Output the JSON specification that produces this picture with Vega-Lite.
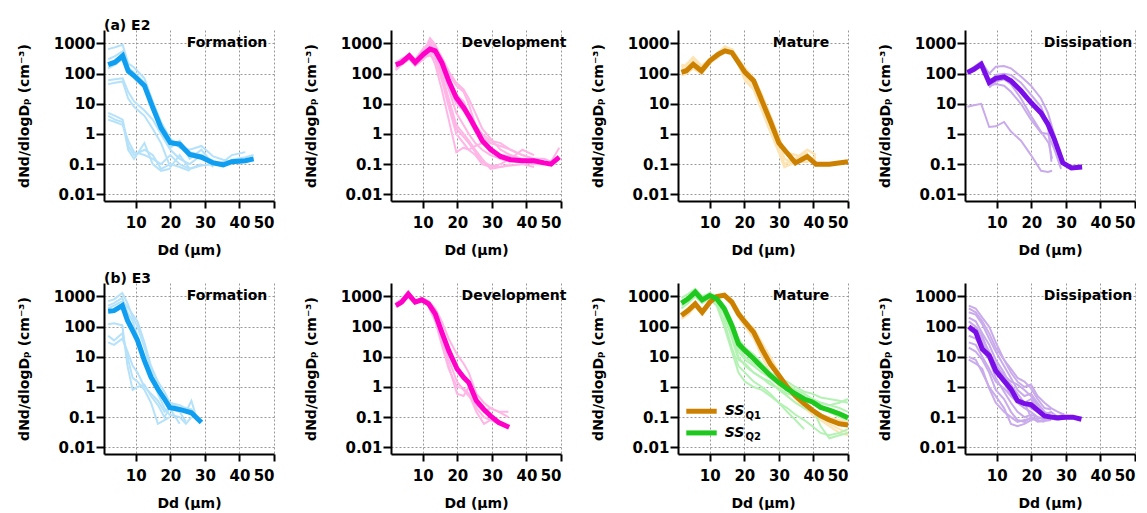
{
"$schema":"https://vega.github.io/schema/vega-lite/v6.json",
"padding":{"left":17,"top":19,"right":0,"bottom":0},
"bounds":"flush",
"columns":4,
"spacing":{"row":82,"column":117},
"config":{
 "font":"DejaVu Sans",
 "view":{"stroke":null},
 "axis":{"domainColor":"#000","domainWidth":2,"tickColor":"#000","tickWidth":2,"labelColor":"#000","labelFontSize":15,"labelFontWeight":"bold","titleColor":"#000","titleFontSize":14,"titleFontWeight":"bold","gridColor":"#999","gridDash":[2,2],"gridWidth":1,"gridOpacity":1},
 "axisX":{"tickSize":7,"labelPadding":7,"titlePadding":13},
 "axisY":{"tickSize":8,"labelPadding":1,"titlePadding":22},
 "title":{"anchor":"start","frame":"group","font":"DejaVu Sans","fontSize":14,"fontWeight":"bold","color":"#000","offset":-3},
 "text":{"font":"DejaVu Sans","fontWeight":"bold","fontSize":14,"color":"#000"}
},
"datasets":{
"e2f":[
{"i":"a","x":2,"y":650},{"i":"a","x":4,"y":750},{"i":"a","x":6.2,"y":900},{"i":"a","x":7.8,"y":220},{"i":"a","x":9.5,"y":160},{"i":"a","x":12.5,"y":70},{"i":"a","x":14.9,"y":12},{"i":"a","x":17.3,"y":2.5},{"i":"a","x":20,"y":0.7},{"i":"a","x":22.7,"y":0.35},{"i":"a","x":25.6,"y":0.3},{"i":"a","x":29,"y":0.4},{"i":"a","x":32.4,"y":0.18},{"i":"a","x":35.3,"y":0.14},{"i":"a","x":37.8,"y":0.12},{"i":"a","x":41.7,"y":0.12},{"i":"a","x":44.1,"y":0.16},
{"i":"b","x":2,"y":300},{"i":"b","x":4,"y":380},{"i":"b","x":6.2,"y":550},{"i":"b","x":7.8,"y":160},{"i":"b","x":9.5,"y":110},{"i":"b","x":12.5,"y":50},{"i":"b","x":14.9,"y":9},{"i":"b","x":17.3,"y":1.3},{"i":"b","x":20,"y":0.35},{"i":"b","x":22.7,"y":0.6},{"i":"b","x":25.6,"y":0.15},{"i":"b","x":29,"y":0.3},{"i":"b","x":32.4,"y":0.1},{"i":"b","x":35.3,"y":0.09},{"i":"b","x":37.8,"y":0.11},{"i":"b","x":41.7,"y":0.15},
{"i":"c","x":2,"y":150},{"i":"c","x":4,"y":200},{"i":"c","x":6.2,"y":300},{"i":"c","x":7.8,"y":110},{"i":"c","x":9.5,"y":90},{"i":"c","x":12.5,"y":35},{"i":"c","x":14.9,"y":6},{"i":"c","x":17.3,"y":1.2},{"i":"c","x":20,"y":0.6},{"i":"c","x":22.7,"y":0.5},{"i":"c","x":25.6,"y":0.25},{"i":"c","x":29,"y":0.2},{"i":"c","x":32.4,"y":0.13},{"i":"c","x":35.3,"y":0.1},{"i":"c","x":37.8,"y":0.14},{"i":"c","x":41.7,"y":0.17},{"i":"c","x":44.1,"y":0.2},
{"i":"d","x":2,"y":60},{"i":"d","x":4,"y":65},{"i":"d","x":6.2,"y":70},{"i":"d","x":7.8,"y":25},{"i":"d","x":9.5,"y":12},{"i":"d","x":12.5,"y":6},{"i":"d","x":14.9,"y":3},{"i":"d","x":17.3,"y":1},{"i":"d","x":20,"y":0.3},{"i":"d","x":22.7,"y":0.15},{"i":"d","x":25.6,"y":0.1},{"i":"d","x":29,"y":0.2},{"i":"d","x":32.4,"y":0.08},
{"i":"e","x":2,"y":45},{"i":"e","x":4,"y":50},{"i":"e","x":6.2,"y":55},{"i":"e","x":7.8,"y":15},{"i":"e","x":9.5,"y":8},{"i":"e","x":12.5,"y":4},{"i":"e","x":14.9,"y":1.5},{"i":"e","x":17.3,"y":0.5},{"i":"e","x":20,"y":0.08},{"i":"e","x":22.7,"y":0.2},{"i":"e","x":25.6,"y":0.07},{"i":"e","x":29,"y":0.1},
{"i":"f","x":2,"y":5},{"i":"f","x":4,"y":4},{"i":"f","x":6.2,"y":3},{"i":"f","x":7.8,"y":0.4},{"i":"f","x":9.5,"y":0.2},{"i":"f","x":12.5,"y":0.3},{"i":"f","x":14.9,"y":0.2},{"i":"f","x":17.3,"y":0.07},{"i":"f","x":20,"y":0.1},{"i":"f","x":22.7,"y":0.08},{"i":"f","x":25.6,"y":0.06},
{"i":"g","x":2,"y":4},{"i":"g","x":4,"y":3},{"i":"g","x":6.2,"y":2.5},{"i":"g","x":7.8,"y":0.3},{"i":"g","x":9.5,"y":0.15},{"i":"g","x":12.5,"y":0.5},{"i":"g","x":14.9,"y":0.1},{"i":"g","x":17.3,"y":0.06},{"i":"g","x":20,"y":0.07},
{"i":"h","x":2,"y":3},{"i":"h","x":4,"y":2.5},{"i":"h","x":6.2,"y":2},{"i":"h","x":7.8,"y":0.6},{"i":"h","x":9.5,"y":0.25},{"i":"h","x":12.5,"y":0.2},{"i":"h","x":14.9,"y":0.15},{"i":"h","x":17.3,"y":0.1},{"i":"h","x":20,"y":0.2},{"i":"h","x":22.7,"y":0.1},{"i":"h","x":25.6,"y":0.07},{"i":"h","x":29,"y":0.09},{"i":"h","x":32.4,"y":0.1},{"i":"h","x":35.3,"y":0.12},{"i":"h","x":37.8,"y":0.2},{"i":"h","x":41.7,"y":0.25},
{"i":"M","x":2,"y":200},{"i":"M","x":4,"y":240},{"i":"M","x":6.2,"y":390},{"i":"M","x":7.8,"y":123},{"i":"M","x":9.5,"y":85},{"i":"M","x":12.5,"y":40},{"i":"M","x":14.9,"y":7.6},{"i":"M","x":17.3,"y":1.6},{"i":"M","x":20,"y":0.51},{"i":"M","x":22.7,"y":0.46},{"i":"M","x":25.6,"y":0.21},{"i":"M","x":29,"y":0.17},{"i":"M","x":32.4,"y":0.11},{"i":"M","x":35.3,"y":0.095},{"i":"M","x":37.8,"y":0.12},{"i":"M","x":41.7,"y":0.13},{"i":"M","x":44.1,"y":0.15}
],
"e2d":[
{"i":"a","x":2.2,"y":150},{"i":"a","x":3.9,"y":250},{"i":"a","x":6.1,"y":350},{"i":"a","x":7.8,"y":200},{"i":"a","x":10.2,"y":500},{"i":"a","x":12.1,"y":1500},{"i":"a","x":13.6,"y":900},{"i":"a","x":15.5,"y":300},{"i":"a","x":17.5,"y":100},{"i":"a","x":19.7,"y":40},{"i":"a","x":21.8,"y":25},{"i":"a","x":23.3,"y":10},{"i":"a","x":25.2,"y":2},{"i":"a","x":27.2,"y":0.8},{"i":"a","x":29.6,"y":0.5},{"i":"a","x":32.5,"y":0.4},{"i":"a","x":35.4,"y":0.3},{"i":"a","x":38.8,"y":0.2},{"i":"a","x":42.2,"y":0.15},{"i":"a","x":45.1,"y":0.15},{"i":"a","x":47.1,"y":0.12},{"i":"a","x":49.5,"y":0.35},
{"i":"b","x":2.2,"y":200},{"i":"b","x":3.9,"y":300},{"i":"b","x":6.1,"y":450},{"i":"b","x":7.8,"y":300},{"i":"b","x":10.2,"y":700},{"i":"b","x":12.1,"y":1000},{"i":"b","x":13.6,"y":600},{"i":"b","x":15.5,"y":150},{"i":"b","x":17.5,"y":30},{"i":"b","x":19.7,"y":5},{"i":"b","x":21.8,"y":2},{"i":"b","x":23.3,"y":1},{"i":"b","x":25.2,"y":0.5},{"i":"b","x":27.2,"y":0.3},{"i":"b","x":29.6,"y":0.2},{"i":"b","x":32.5,"y":0.15},{"i":"b","x":35.4,"y":0.13},{"i":"b","x":38.8,"y":0.12},{"i":"b","x":42.2,"y":0.1},{"i":"b","x":45.1,"y":0.1},
{"i":"c","x":2.2,"y":130},{"i":"c","x":3.9,"y":200},{"i":"c","x":6.1,"y":300},{"i":"c","x":7.8,"y":180},{"i":"c","x":10.2,"y":300},{"i":"c","x":12.1,"y":500},{"i":"c","x":13.6,"y":200},{"i":"c","x":15.5,"y":30},{"i":"c","x":17.5,"y":3},{"i":"c","x":19.7,"y":0.25},{"i":"c","x":21.8,"y":0.35},{"i":"c","x":23.3,"y":0.3},{"i":"c","x":25.2,"y":0.4},{"i":"c","x":27.2,"y":0.5},{"i":"c","x":29.6,"y":0.3},{"i":"c","x":32.5,"y":0.15},{"i":"c","x":35.4,"y":0.12},
{"i":"d","x":2.2,"y":180},{"i":"d","x":3.9,"y":260},{"i":"d","x":6.1,"y":400},{"i":"d","x":7.8,"y":250},{"i":"d","x":10.2,"y":400},{"i":"d","x":12.1,"y":700},{"i":"d","x":13.6,"y":450},{"i":"d","x":15.5,"y":100},{"i":"d","x":17.5,"y":15},{"i":"d","x":19.7,"y":2},{"i":"d","x":21.8,"y":1},{"i":"d","x":23.3,"y":0.6},{"i":"d","x":25.2,"y":0.3},{"i":"d","x":27.2,"y":0.15},{"i":"d","x":29.6,"y":0.07},{"i":"d","x":32.5,"y":0.08},{"i":"d","x":35.4,"y":0.09},{"i":"d","x":38.8,"y":0.1},{"i":"d","x":42.2,"y":0.08},
{"i":"e","x":2.2,"y":220},{"i":"e","x":3.9,"y":320},{"i":"e","x":6.1,"y":350},{"i":"e","x":7.8,"y":220},{"i":"e","x":10.2,"y":350},{"i":"e","x":12.1,"y":400},{"i":"e","x":13.6,"y":300},{"i":"e","x":15.5,"y":60},{"i":"e","x":17.5,"y":8},{"i":"e","x":19.7,"y":1},{"i":"e","x":21.8,"y":0.5},{"i":"e","x":23.3,"y":0.3},{"i":"e","x":25.2,"y":0.2},{"i":"e","x":27.2,"y":0.1},{"i":"e","x":29.6,"y":0.08},{"i":"e","x":32.5,"y":0.1},{"i":"e","x":35.4,"y":0.15},{"i":"e","x":38.8,"y":0.3},{"i":"e","x":42.2,"y":0.2},
{"i":"f","x":2.2,"y":170},{"i":"f","x":3.9,"y":220},{"i":"f","x":6.1,"y":380},{"i":"f","x":7.8,"y":210},{"i":"f","x":10.2,"y":450},{"i":"f","x":12.1,"y":800},{"i":"f","x":13.6,"y":700},{"i":"f","x":15.5,"y":250},{"i":"f","x":17.5,"y":60},{"i":"f","x":19.7,"y":20},{"i":"f","x":21.8,"y":12},{"i":"f","x":23.3,"y":5},{"i":"f","x":25.2,"y":2},{"i":"f","x":27.2,"y":1},{"i":"f","x":29.6,"y":0.6},{"i":"f","x":32.5,"y":0.5},{"i":"f","x":35.4,"y":0.3},{"i":"f","x":38.8,"y":0.2},{"i":"f","x":42.2,"y":0.15},
{"i":"g","x":2.2,"y":160},{"i":"g","x":3.9,"y":240},{"i":"g","x":6.1,"y":330},{"i":"g","x":7.8,"y":230},{"i":"g","x":10.2,"y":550},{"i":"g","x":12.1,"y":900},{"i":"g","x":13.6,"y":500},{"i":"g","x":15.5,"y":200},{"i":"g","x":17.5,"y":40},{"i":"g","x":19.7,"y":10},{"i":"g","x":21.8,"y":6},{"i":"g","x":23.3,"y":3},{"i":"g","x":25.2,"y":1.2},{"i":"g","x":27.2,"y":0.6},{"i":"g","x":29.6,"y":0.25},{"i":"g","x":32.5,"y":0.2},{"i":"g","x":35.4,"y":0.18},{"i":"g","x":38.8,"y":0.14},{"i":"g","x":42.2,"y":0.12},{"i":"g","x":45.1,"y":0.13},
{"i":"h","x":2.2,"y":250},{"i":"h","x":3.9,"y":280},{"i":"h","x":6.1,"y":420},{"i":"h","x":7.8,"y":260},{"i":"h","x":10.2,"y":600},{"i":"h","x":12.1,"y":1200},{"i":"h","x":13.6,"y":800},{"i":"h","x":15.5,"y":350},{"i":"h","x":17.5,"y":120},{"i":"h","x":19.7,"y":50},{"i":"h","x":21.8,"y":30},{"i":"h","x":23.3,"y":15},{"i":"h","x":25.2,"y":5},{"i":"h","x":27.2,"y":1.5},{"i":"h","x":29.6,"y":0.7},{"i":"h","x":32.5,"y":0.3},{"i":"h","x":35.4,"y":0.2},{"i":"h","x":38.8,"y":0.15},{"i":"h","x":42.2,"y":0.12},{"i":"h","x":45.1,"y":0.12},{"i":"h","x":47.1,"y":0.1},{"i":"h","x":49.5,"y":0.15},
{"i":"j","x":2.2,"y":140},{"i":"j","x":3.9,"y":210},{"i":"j","x":6.1,"y":320},{"i":"j","x":7.8,"y":190},{"i":"j","x":10.2,"y":380},{"i":"j","x":12.1,"y":600},{"i":"j","x":13.6,"y":350},{"i":"j","x":15.5,"y":80},{"i":"j","x":17.5,"y":10},{"i":"j","x":19.7,"y":1.5},{"i":"j","x":21.8,"y":0.8},{"i":"j","x":23.3,"y":0.5},{"i":"j","x":25.2,"y":0.25},{"i":"j","x":27.2,"y":0.12},{"i":"j","x":29.6,"y":0.09},{"i":"j","x":32.5,"y":0.08},{"i":"j","x":35.4,"y":0.1},
{"i":"M","x":2.2,"y":196},{"i":"M","x":3.9,"y":235},{"i":"M","x":6.1,"y":390},{"i":"M","x":7.8,"y":235},{"i":"M","x":10.2,"y":440},{"i":"M","x":12.1,"y":650},{"i":"M","x":13.6,"y":570},{"i":"M","x":15.5,"y":235},{"i":"M","x":17.5,"y":58},{"i":"M","x":19.7,"y":16},{"i":"M","x":21.8,"y":7.6},{"i":"M","x":23.3,"y":4},{"i":"M","x":25.2,"y":1.6},{"i":"M","x":27.2,"y":0.6},{"i":"M","x":29.6,"y":0.31},{"i":"M","x":32.5,"y":0.18},{"i":"M","x":35.4,"y":0.14},{"i":"M","x":38.8,"y":0.13},{"i":"M","x":42.2,"y":0.13},{"i":"M","x":45.1,"y":0.11},{"i":"M","x":47.1,"y":0.1},{"i":"M","x":49.5,"y":0.17}
],
"e2m":[
{"i":"a","x":1.8,"y":160},{"i":"a","x":3.2,"y":200},{"i":"a","x":5.2,"y":350},{"i":"a","x":7.6,"y":180},{"i":"a","x":10,"y":300},{"i":"a","x":12.5,"y":500},{"i":"a","x":14.4,"y":800},{"i":"a","x":16.4,"y":600},{"i":"a","x":18.3,"y":250},{"i":"a","x":20.2,"y":80},{"i":"a","x":22.7,"y":40},{"i":"a","x":25.1,"y":8},{"i":"a","x":27.5,"y":1.5},{"i":"a","x":30,"y":0.3},{"i":"a","x":31.6,"y":0.1},{"i":"a","x":34.8,"y":0.15},{"i":"a","x":38.2,"y":0.3},{"i":"a","x":40.7,"y":0.2},
{"i":"b","x":1.8,"y":90},{"i":"b","x":3.2,"y":100},{"i":"b","x":5.2,"y":150},{"i":"b","x":7.6,"y":100},{"i":"b","x":10,"y":220},{"i":"b","x":12.5,"y":400},{"i":"b","x":14.4,"y":500},{"i":"b","x":16.4,"y":450},{"i":"b","x":18.3,"y":200},{"i":"b","x":20.2,"y":60},{"i":"b","x":22.7,"y":30},{"i":"b","x":25.1,"y":6},{"i":"b","x":27.5,"y":1.2},{"i":"b","x":30,"y":0.25},{"i":"b","x":31.6,"y":0.08},{"i":"b","x":34.8,"y":0.12},{"i":"b","x":38.2,"y":0.12},{"i":"b","x":40.7,"y":0.18},
{"i":"c","x":1.8,"y":140},{"i":"c","x":3.2,"y":150},{"i":"c","x":5.2,"y":250},{"i":"c","x":7.6,"y":150},{"i":"c","x":10,"y":250},{"i":"c","x":12.5,"y":350},{"i":"c","x":14.4,"y":700},{"i":"c","x":16.4,"y":650},{"i":"c","x":18.3,"y":300},{"i":"c","x":20.2,"y":150},{"i":"c","x":22.7,"y":70},{"i":"c","x":25.1,"y":20},{"i":"c","x":27.5,"y":4},{"i":"c","x":30,"y":0.8},{"i":"c","x":31.6,"y":0.25},{"i":"c","x":34.8,"y":0.2},{"i":"c","x":38.2,"y":0.15},{"i":"c","x":40.7,"y":0.15},
{"i":"d","x":1.8,"y":200},{"i":"d","x":3.2,"y":170},{"i":"d","x":5.2,"y":300},{"i":"d","x":7.6,"y":130},{"i":"d","x":10,"y":280},{"i":"d","x":12.5,"y":450},{"i":"d","x":14.4,"y":600},{"i":"d","x":16.4,"y":550},{"i":"d","x":18.3,"y":280},{"i":"d","x":20.2,"y":120},{"i":"d","x":22.7,"y":50},{"i":"d","x":25.1,"y":15},{"i":"d","x":27.5,"y":3},{"i":"d","x":30,"y":0.6},{"i":"d","x":31.6,"y":0.15},{"i":"d","x":34.8,"y":0.1},{"i":"d","x":38.2,"y":0.25},
{"i":"M","x":1.8,"y":110},{"i":"M","x":3.2,"y":125},{"i":"M","x":5.2,"y":205},{"i":"M","x":7.6,"y":123},{"i":"M","x":10,"y":265},{"i":"M","x":12.5,"y":440},{"i":"M","x":14.4,"y":570},{"i":"M","x":16.4,"y":500},{"i":"M","x":18.3,"y":235},{"i":"M","x":20.2,"y":110},{"i":"M","x":22.7,"y":58},{"i":"M","x":25.1,"y":12.5},{"i":"M","x":27.5,"y":2.7},{"i":"M","x":30,"y":0.5},{"i":"M","x":31.6,"y":0.3},{"i":"M","x":34.8,"y":0.11},{"i":"M","x":38.2,"y":0.18},{"i":"M","x":40.7,"y":0.1},{"i":"M","x":44.6,"y":0.1},{"i":"M","x":50,"y":0.12}
],
"e2x":[
{"i":"a","x":1.5,"y":120},{"i":"a","x":3.4,"y":170},{"i":"a","x":5.5,"y":250},{"i":"a","x":7.8,"y":100},{"i":"a","x":9.7,"y":170},{"i":"a","x":12.1,"y":180},{"i":"a","x":14.1,"y":150},{"i":"a","x":17,"y":80},{"i":"a","x":19.9,"y":40},{"i":"a","x":22.8,"y":15},{"i":"a","x":24.8,"y":5},{"i":"a","x":26.7,"y":0.9},{"i":"a","x":28.5,"y":0.1},
{"i":"b","x":1.5,"y":100},{"i":"b","x":3.4,"y":130},{"i":"b","x":5.5,"y":180},{"i":"b","x":7.8,"y":45},{"i":"b","x":9.7,"y":90},{"i":"b","x":12.1,"y":100},{"i":"b","x":14.1,"y":90},{"i":"b","x":17,"y":50},{"i":"b","x":19.9,"y":20},{"i":"b","x":22.8,"y":8},{"i":"b","x":24.8,"y":2},{"i":"b","x":25.8,"y":0.12},
{"i":"c","x":7.8,"y":40},{"i":"c","x":9.7,"y":45},{"i":"c","x":12.1,"y":40},{"i":"c","x":14.1,"y":25},{"i":"c","x":17,"y":10},{"i":"c","x":19.9,"y":3},{"i":"c","x":22.8,"y":1.1},{"i":"c","x":24.8,"y":1},{"i":"c","x":26.7,"y":0.3},{"i":"c","x":28.6,"y":0.07},
{"i":"d","x":1.5,"y":8},{"i":"d","x":3.4,"y":9},{"i":"d","x":5.5,"y":10},{"i":"d","x":7.8,"y":1.7},{"i":"d","x":9.7,"y":1.8},{"i":"d","x":12.1,"y":2.5},{"i":"d","x":14.1,"y":1.2},{"i":"d","x":17,"y":0.6},{"i":"d","x":19.9,"y":0.2},{"i":"d","x":22.8,"y":0.06},{"i":"d","x":24.8,"y":0.055},{"i":"d","x":26,"y":0.06},
{"i":"e","x":7.8,"y":35},{"i":"e","x":9.7,"y":55},{"i":"e","x":12.1,"y":65},{"i":"e","x":14.1,"y":45},{"i":"e","x":17,"y":15},{"i":"e","x":19.9,"y":4},{"i":"e","x":22.8,"y":1.2},{"i":"e","x":25,"y":0.5},{"i":"e","x":26,"y":0.15},
{"i":"M","x":1.5,"y":110},{"i":"M","x":3.4,"y":140},{"i":"M","x":5.5,"y":205},{"i":"M","x":7.8,"y":51},{"i":"M","x":9.7,"y":70},{"i":"M","x":12.1,"y":78},{"i":"M","x":14.1,"y":58},{"i":"M","x":17,"y":27},{"i":"M","x":19.9,"y":11},{"i":"M","x":22.8,"y":5},{"i":"M","x":24.8,"y":2.1},{"i":"M","x":26.7,"y":0.65},{"i":"M","x":29.1,"y":0.11},{"i":"M","x":31.6,"y":0.075},{"i":"M","x":34.7,"y":0.08}
],
"e3f":[
{"i":"a","x":2,"y":700},{"i":"a","x":3.7,"y":800},{"i":"a","x":6.1,"y":1300},{"i":"a","x":7.6,"y":600},{"i":"a","x":9.1,"y":200},{"i":"a","x":10.5,"y":100},{"i":"a","x":12.5,"y":20},{"i":"a","x":14.4,"y":4},{"i":"a","x":16.4,"y":1},{"i":"a","x":18.3,"y":0.5},{"i":"a","x":19.8,"y":0.3},{"i":"a","x":22.7,"y":0.2},{"i":"a","x":24.5,"y":0.15},{"i":"a","x":26.1,"y":0.35},{"i":"a","x":27.5,"y":0.1},
{"i":"b","x":2,"y":500},{"i":"b","x":3.7,"y":600},{"i":"b","x":6.1,"y":900},{"i":"b","x":7.6,"y":300},{"i":"b","x":9.1,"y":150},{"i":"b","x":10.5,"y":50},{"i":"b","x":12.5,"y":10},{"i":"b","x":14.4,"y":3},{"i":"b","x":16.4,"y":0.6},{"i":"b","x":18.3,"y":0.2},{"i":"b","x":19.8,"y":0.12},{"i":"b","x":22.7,"y":0.1},{"i":"b","x":24.5,"y":0.06},{"i":"b","x":26.1,"y":0.1},
{"i":"c","x":2,"y":120},{"i":"c","x":3.7,"y":130},{"i":"c","x":6.1,"y":110},{"i":"c","x":7.6,"y":5},{"i":"c","x":9.1,"y":0.8},{"i":"c","x":10.5,"y":1},{"i":"c","x":12.5,"y":1.2},{"i":"c","x":14.4,"y":0.5},{"i":"c","x":16.4,"y":0.25},{"i":"c","x":18.3,"y":0.1},{"i":"c","x":19.8,"y":0.2},{"i":"c","x":22.7,"y":0.06},
{"i":"d","x":2,"y":50},{"i":"d","x":3.7,"y":35},{"i":"d","x":6.1,"y":60},{"i":"d","x":7.6,"y":10},{"i":"d","x":9.1,"y":2},{"i":"d","x":10.5,"y":1.5},{"i":"d","x":12.5,"y":0.8},{"i":"d","x":14.4,"y":0.3},{"i":"d","x":16.4,"y":0.06},{"i":"d","x":18.3,"y":0.08},{"i":"d","x":19.8,"y":0.1},
{"i":"e","x":2,"y":30},{"i":"e","x":3.7,"y":25},{"i":"e","x":6.1,"y":40},{"i":"e","x":7.6,"y":15},{"i":"e","x":9.1,"y":5},{"i":"e","x":10.5,"y":3},{"i":"e","x":12.5,"y":1},{"i":"e","x":14.4,"y":0.6},{"i":"e","x":16.4,"y":0.35},{"i":"e","x":18.3,"y":0.15},{"i":"e","x":19.8,"y":0.2},{"i":"e","x":22.7,"y":0.15},{"i":"e","x":24.5,"y":0.07},
{"i":"f","x":2,"y":400},{"i":"f","x":3.7,"y":500},{"i":"f","x":6.1,"y":700},{"i":"f","x":7.6,"y":450},{"i":"f","x":9.1,"y":250},{"i":"f","x":10.5,"y":150},{"i":"f","x":12.5,"y":30},{"i":"f","x":14.4,"y":5},{"i":"f","x":16.4,"y":1.5},{"i":"f","x":18.3,"y":0.7},{"i":"f","x":19.8,"y":0.3},{"i":"f","x":22.7,"y":0.25},{"i":"f","x":24.5,"y":0.2},{"i":"f","x":26.1,"y":0.18},{"i":"f","x":27.5,"y":0.1},
{"i":"M","x":2,"y":325},{"i":"M","x":3.7,"y":340},{"i":"M","x":6.1,"y":500},{"i":"M","x":7.6,"y":160},{"i":"M","x":9.1,"y":74},{"i":"M","x":10.5,"y":35},{"i":"M","x":12.5,"y":7.5},{"i":"M","x":14.4,"y":2.1},{"i":"M","x":16.4,"y":0.85},{"i":"M","x":18.3,"y":0.4},{"i":"M","x":19.8,"y":0.21},{"i":"M","x":22.7,"y":0.18},{"i":"M","x":26.1,"y":0.14},{"i":"M","x":29,"y":0.066}
],
"e3d":[
{"i":"a","x":2.2,"y":600},{"i":"a","x":3.9,"y":800},{"i":"a","x":5.8,"y":1500},{"i":"a","x":7.8,"y":700},{"i":"a","x":9.7,"y":900},{"i":"a","x":11.7,"y":700},{"i":"a","x":13.6,"y":400},{"i":"a","x":15.5,"y":150},{"i":"a","x":17.5,"y":40},{"i":"a","x":19.9,"y":12},{"i":"a","x":21.8,"y":6},{"i":"a","x":23.3,"y":3},{"i":"a","x":25.5,"y":0.6},{"i":"a","x":27.7,"y":0.3},{"i":"a","x":29.6,"y":0.2},{"i":"a","x":32,"y":0.15},{"i":"a","x":34.8,"y":0.15},
{"i":"b","x":2.2,"y":450},{"i":"b","x":3.9,"y":600},{"i":"b","x":5.8,"y":1000},{"i":"b","x":7.8,"y":600},{"i":"b","x":9.7,"y":700},{"i":"b","x":11.7,"y":500},{"i":"b","x":13.6,"y":200},{"i":"b","x":15.5,"y":30},{"i":"b","x":17.5,"y":5},{"i":"b","x":19.9,"y":0.6},{"i":"b","x":21.8,"y":0.5},{"i":"b","x":23.3,"y":1},{"i":"b","x":25.5,"y":0.2},{"i":"b","x":27.7,"y":0.1},{"i":"b","x":29.6,"y":0.08},{"i":"b","x":32,"y":0.06},
{"i":"c","x":9.7,"y":800},{"i":"c","x":11.7,"y":600},{"i":"c","x":13.6,"y":250},{"i":"c","x":15.5,"y":40},{"i":"c","x":17.5,"y":8},{"i":"c","x":19.9,"y":1.5},{"i":"c","x":21.8,"y":0.8},{"i":"c","x":23.3,"y":0.5},{"i":"c","x":25.5,"y":0.25},{"i":"c","x":27.7,"y":0.15},{"i":"c","x":29.6,"y":0.2},{"i":"c","x":32,"y":0.15},{"i":"c","x":34.8,"y":0.1},
{"i":"d","x":11.7,"y":450},{"i":"d","x":13.6,"y":150},{"i":"d","x":15.5,"y":25},{"i":"d","x":17.5,"y":4},{"i":"d","x":19.9,"y":1},{"i":"d","x":21.8,"y":0.9},{"i":"d","x":23.3,"y":0.6},{"i":"d","x":25.5,"y":0.15},{"i":"d","x":27.7,"y":0.06},{"i":"d","x":29.6,"y":0.08},
{"i":"M","x":2.2,"y":500},{"i":"M","x":3.9,"y":650},{"i":"M","x":5.8,"y":1200},{"i":"M","x":7.8,"y":650},{"i":"M","x":9.7,"y":775},{"i":"M","x":11.7,"y":570},{"i":"M","x":13.6,"y":265},{"i":"M","x":15.5,"y":66},{"i":"M","x":17.5,"y":16},{"i":"M","x":19.9,"y":4},{"i":"M","x":21.8,"y":2.1},{"i":"M","x":23.3,"y":1.4},{"i":"M","x":25.5,"y":0.35},{"i":"M","x":27.7,"y":0.18},{"i":"M","x":29.6,"y":0.11},{"i":"M","x":32,"y":0.066},{"i":"M","x":35,"y":0.046}
],
"e3m":[
{"i":"q1","x":1.8,"y":180},{"i":"q1","x":3.7,"y":250},{"i":"q1","x":5.8,"y":450},{"i":"q1","x":7.8,"y":250},{"i":"q1","x":10,"y":550},{"i":"q1","x":12,"y":900},{"i":"q1","x":14.2,"y":1100},{"i":"q1","x":16.4,"y":700},{"i":"q1","x":18.3,"y":300},{"i":"q1","x":20.2,"y":180},{"i":"q1","x":22.7,"y":80},{"i":"q1","x":25.1,"y":25},{"i":"q1","x":27.5,"y":8},{"i":"q1","x":30,"y":3},{"i":"q1","x":32.4,"y":1.2},{"i":"q1","x":34.8,"y":0.6},{"i":"q1","x":37.3,"y":0.3},{"i":"q1","x":39.7,"y":0.15},{"i":"q1","x":42.1,"y":0.1},{"i":"q1","x":44.6,"y":0.06},{"i":"q1","x":47.5,"y":0.04},{"i":"q1","x":50,"y":0.03},
{"i":"q2","x":1.8,"y":280},{"i":"q2","x":3.7,"y":400},{"i":"q2","x":5.8,"y":700},{"i":"q2","x":7.8,"y":350},{"i":"q2","x":10,"y":750},{"i":"q2","x":12,"y":1100},{"i":"q2","x":14.2,"y":1200},{"i":"q2","x":16.4,"y":800},{"i":"q2","x":18.3,"y":350},{"i":"q2","x":20.2,"y":150},{"i":"q2","x":22.7,"y":90},{"i":"q2","x":25.1,"y":30},{"i":"q2","x":27.5,"y":10},{"i":"q2","x":30,"y":3},{"i":"q2","x":32.4,"y":1},{"i":"q2","x":34.8,"y":0.4},{"i":"q2","x":37.3,"y":0.2},{"i":"q2","x":39.7,"y":0.12},{"i":"q2","x":42.1,"y":0.08},{"i":"q2","x":44.6,"y":0.05},{"i":"q2","x":47.5,"y":0.03},{"i":"q2","x":50,"y":0.025},
{"i":"q3","x":1.8,"y":200},{"i":"q3","x":3.7,"y":300},{"i":"q3","x":5.8,"y":500},{"i":"q3","x":7.8,"y":280},{"i":"q3","x":10,"y":600},{"i":"q3","x":12,"y":950},{"i":"q3","x":14.2,"y":1000},{"i":"q3","x":16.4,"y":500},{"i":"q3","x":18.3,"y":200},{"i":"q3","x":20.2,"y":100},{"i":"q3","x":22.7,"y":40},{"i":"q3","x":25.1,"y":10},{"i":"q3","x":27.5,"y":3},{"i":"q3","x":30,"y":1},{"i":"q3","x":32.4,"y":0.5},{"i":"q3","x":34.8,"y":0.3},{"i":"q3","x":37.3,"y":0.2},{"i":"q3","x":39.7,"y":0.15},{"i":"q3","x":42.1,"y":0.12},{"i":"q3","x":44.6,"y":0.1},{"i":"q3","x":47.5,"y":0.08},{"i":"q3","x":50,"y":0.07},
{"i":"g1","x":1.8,"y":900},{"i":"g1","x":3.7,"y":1200},{"i":"g1","x":5.8,"y":1800},{"i":"g1","x":7.8,"y":1000},{"i":"g1","x":10,"y":1300},{"i":"g1","x":12,"y":1000},{"i":"g1","x":14.2,"y":500},{"i":"g1","x":16.4,"y":150},{"i":"g1","x":18.3,"y":40},{"i":"g1","x":20.2,"y":20},{"i":"g1","x":22.7,"y":12},{"i":"g1","x":25.1,"y":6},{"i":"g1","x":27.5,"y":3},{"i":"g1","x":30,"y":2},{"i":"g1","x":32.4,"y":1.5},{"i":"g1","x":34.8,"y":1},{"i":"g1","x":37.3,"y":0.7},{"i":"g1","x":39.7,"y":0.6},{"i":"g1","x":42.1,"y":0.45},{"i":"g1","x":44.6,"y":0.4},{"i":"g1","x":47.5,"y":0.35},{"i":"g1","x":50,"y":0.3},
{"i":"g2","x":1.8,"y":400},{"i":"g2","x":3.7,"y":600},{"i":"g2","x":5.8,"y":1000},{"i":"g2","x":7.8,"y":600},{"i":"g2","x":10,"y":900},{"i":"g2","x":12,"y":700},{"i":"g2","x":14.2,"y":250},{"i":"g2","x":16.4,"y":50},{"i":"g2","x":18.3,"y":10},{"i":"g2","x":20.2,"y":5},{"i":"g2","x":22.7,"y":3},{"i":"g2","x":25.1,"y":2},{"i":"g2","x":27.5,"y":1.5},{"i":"g2","x":30,"y":0.8},{"i":"g2","x":32.4,"y":0.5},{"i":"g2","x":34.8,"y":0.3},{"i":"g2","x":37.3,"y":0.2},{"i":"g2","x":39.7,"y":0.15},{"i":"g2","x":42.1,"y":0.1},{"i":"g2","x":44.6,"y":0.08},{"i":"g2","x":47.5,"y":0.06},{"i":"g2","x":50,"y":0.05},
{"i":"g3","x":1.8,"y":700},{"i":"g3","x":3.7,"y":900},{"i":"g3","x":5.8,"y":1200},{"i":"g3","x":7.8,"y":700},{"i":"g3","x":10,"y":1000},{"i":"g3","x":12,"y":600},{"i":"g3","x":14.2,"y":150},{"i":"g3","x":16.4,"y":20},{"i":"g3","x":18.3,"y":5},{"i":"g3","x":20.2,"y":3},{"i":"g3","x":22.7,"y":1.5},{"i":"g3","x":25.1,"y":1},{"i":"g3","x":27.5,"y":0.6},{"i":"g3","x":30,"y":0.3},{"i":"g3","x":32.4,"y":0.2},{"i":"g3","x":34.8,"y":0.12},{"i":"g3","x":37.3,"y":0.08},{"i":"g3","x":39.7,"y":0.05},{"i":"g3","x":42.1,"y":0.03},{"i":"g3","x":44.6,"y":0.025},{"i":"g3","x":47.5,"y":0.03},{"i":"g3","x":50,"y":0.04},
{"i":"g4","x":1.8,"y":500},{"i":"g4","x":3.7,"y":700},{"i":"g4","x":5.8,"y":1100},{"i":"g4","x":7.8,"y":800},{"i":"g4","x":10,"y":1100},{"i":"g4","x":12,"y":900},{"i":"g4","x":14.2,"y":300},{"i":"g4","x":16.4,"y":80},{"i":"g4","x":18.3,"y":20},{"i":"g4","x":20.2,"y":10},{"i":"g4","x":22.7,"y":6},{"i":"g4","x":25.1,"y":4},{"i":"g4","x":27.5,"y":3},{"i":"g4","x":30,"y":2},{"i":"g4","x":32.4,"y":1.2},{"i":"g4","x":34.8,"y":0.8},{"i":"g4","x":37.3,"y":0.6},{"i":"g4","x":39.7,"y":0.4},{"i":"g4","x":42.1,"y":0.3},{"i":"g4","x":44.6,"y":0.25},{"i":"g4","x":47.5,"y":0.2},{"i":"g4","x":50,"y":0.15},
{"i":"g5","x":1.8,"y":600},{"i":"g5","x":3.7,"y":800},{"i":"g5","x":5.8,"y":1300},{"i":"g5","x":7.8,"y":900},{"i":"g5","x":10,"y":1200},{"i":"g5","x":12,"y":800},{"i":"g5","x":14.2,"y":400},{"i":"g5","x":16.4,"y":100},{"i":"g5","x":18.3,"y":30},{"i":"g5","x":20.2,"y":15},{"i":"g5","x":22.7,"y":8},{"i":"g5","x":25.1,"y":5},{"i":"g5","x":27.5,"y":2.5},{"i":"g5","x":30,"y":1.5},{"i":"g5","x":32.4,"y":1},{"i":"g5","x":34.8,"y":0.7},{"i":"g5","x":37.3,"y":0.5},{"i":"g5","x":39.7,"y":0.35},{"i":"g5","x":42.1,"y":0.25},{"i":"g5","x":44.6,"y":0.15},{"i":"g5","x":47.5,"y":0.1},{"i":"g5","x":50,"y":0.08},
{"i":"g6","x":10,"y":800},{"i":"g6","x":12,"y":500},{"i":"g6","x":14.2,"y":100},{"i":"g6","x":16.4,"y":15},{"i":"g6","x":18.3,"y":3},{"i":"g6","x":20.2,"y":1.5},{"i":"g6","x":22.7,"y":1},{"i":"g6","x":25.1,"y":0.8},{"i":"g6","x":27.5,"y":0.5},{"i":"g6","x":30,"y":0.3},{"i":"g6","x":32.4,"y":0.15},{"i":"g6","x":34.8,"y":0.08},{"i":"g6","x":37.3,"y":0.04},
{"i":"g7","x":10,"y":900},{"i":"g7","x":12,"y":700},{"i":"g7","x":14.2,"y":250},{"i":"g7","x":16.4,"y":40},{"i":"g7","x":18.3,"y":8},{"i":"g7","x":20.2,"y":6},{"i":"g7","x":22.7,"y":3},{"i":"g7","x":25.1,"y":2},{"i":"g7","x":27.5,"y":1.2},{"i":"g7","x":30,"y":0.9},{"i":"g7","x":32.4,"y":0.6},{"i":"g7","x":34.8,"y":0.5},{"i":"g7","x":37.3,"y":0.3},{"i":"g7","x":39.7,"y":0.2},{"i":"g7","x":42.1,"y":0.05},{"i":"g7","x":44.6,"y":0.02},{"i":"g7","x":47.5,"y":0.025},{"i":"g7","x":50,"y":0.03},
{"i":"g8","x":14.2,"y":200},{"i":"g8","x":16.4,"y":60},{"i":"g8","x":18.3,"y":15},{"i":"g8","x":20.2,"y":8},{"i":"g8","x":22.7,"y":5},{"i":"g8","x":25.1,"y":3},{"i":"g8","x":27.5,"y":2},{"i":"g8","x":30,"y":1.2},{"i":"g8","x":32.4,"y":0.8},{"i":"g8","x":34.8,"y":0.6},{"i":"g8","x":37.3,"y":0.45},{"i":"g8","x":39.7,"y":0.35},{"i":"g8","x":42.1,"y":0.3},{"i":"g8","x":44.6,"y":0.25},{"i":"g8","x":47.5,"y":0.3},{"i":"g8","x":50,"y":0.4},
{"i":"Q1","x":1.8,"y":235},{"i":"Q1","x":3.7,"y":340},{"i":"Q1","x":5.8,"y":570},{"i":"Q1","x":7.8,"y":300},{"i":"Q1","x":10,"y":650},{"i":"Q1","x":12,"y":1000},{"i":"Q1","x":14.2,"y":1100},{"i":"Q1","x":16.4,"y":650},{"i":"Q1","x":18.3,"y":265},{"i":"Q1","x":20.2,"y":140},{"i":"Q1","x":22.7,"y":65},{"i":"Q1","x":25.1,"y":18},{"i":"Q1","x":27.5,"y":5.8},{"i":"Q1","x":30,"y":2.4},{"i":"Q1","x":32.4,"y":1},{"i":"Q1","x":34.8,"y":0.5},{"i":"Q1","x":37.3,"y":0.28},{"i":"Q1","x":39.7,"y":0.17},{"i":"Q1","x":42.1,"y":0.11},{"i":"Q1","x":44.6,"y":0.08},{"i":"Q1","x":47.5,"y":0.06},{"i":"Q1","x":50,"y":0.055},
{"i":"Q2","x":1.8,"y":600},{"i":"Q2","x":3.7,"y":840},{"i":"Q2","x":5.8,"y":1400},{"i":"Q2","x":7.8,"y":775},{"i":"Q2","x":10,"y":1080},{"i":"Q2","x":12,"y":840},{"i":"Q2","x":14.2,"y":390},{"i":"Q2","x":16.4,"y":110},{"i":"Q2","x":18.3,"y":27},{"i":"Q2","x":20.2,"y":16},{"i":"Q2","x":22.7,"y":8.6},{"i":"Q2","x":25.1,"y":4.5},{"i":"Q2","x":27.5,"y":2.4},{"i":"Q2","x":30,"y":1.4},{"i":"Q2","x":32.4,"y":0.86},{"i":"Q2","x":34.8,"y":0.59},{"i":"Q2","x":37.3,"y":0.4},{"i":"Q2","x":39.7,"y":0.32},{"i":"Q2","x":42.1,"y":0.21},{"i":"Q2","x":44.6,"y":0.17},{"i":"Q2","x":47.5,"y":0.13},{"i":"Q2","x":50,"y":0.095}
],
"e3x":[
{"i":"a","x":1.9,"y":500},{"i":"a","x":3.9,"y":400},{"i":"a","x":5.8,"y":200},{"i":"a","x":7.8,"y":100},{"i":"a","x":9.7,"y":30},{"i":"a","x":12.1,"y":8},{"i":"a","x":14.1,"y":3},{"i":"a","x":16,"y":1.5},{"i":"a","x":18,"y":1},{"i":"a","x":19.9,"y":1.2},{"i":"a","x":21.8,"y":0.5},{"i":"a","x":23.8,"y":0.3},{"i":"a","x":25.7,"y":0.2},{"i":"a","x":27.7,"y":0.15},{"i":"a","x":29.5,"y":0.12},
{"i":"b","x":1.9,"y":300},{"i":"b","x":3.9,"y":250},{"i":"b","x":5.8,"y":120},{"i":"b","x":7.8,"y":40},{"i":"b","x":9.7,"y":15},{"i":"b","x":12.1,"y":5},{"i":"b","x":14.1,"y":2},{"i":"b","x":16,"y":0.8},{"i":"b","x":18,"y":0.5},{"i":"b","x":19.9,"y":0.6},{"i":"b","x":21.8,"y":0.3},{"i":"b","x":23.8,"y":0.15},{"i":"b","x":25.7,"y":0.12},{"i":"b","x":27.7,"y":0.1},
{"i":"c","x":1.9,"y":200},{"i":"c","x":3.9,"y":150},{"i":"c","x":5.8,"y":60},{"i":"c","x":7.8,"y":25},{"i":"c","x":9.7,"y":8},{"i":"c","x":12.1,"y":3},{"i":"c","x":14.1,"y":1},{"i":"c","x":16,"y":0.4},{"i":"c","x":18,"y":0.3},{"i":"c","x":19.9,"y":0.4},{"i":"c","x":21.8,"y":0.2},{"i":"c","x":23.8,"y":0.12},{"i":"c","x":25.7,"y":0.15},{"i":"c","x":27.7,"y":0.1},{"i":"c","x":29.5,"y":0.13},
{"i":"d","x":1.9,"y":50},{"i":"d","x":3.9,"y":40},{"i":"d","x":5.8,"y":20},{"i":"d","x":7.8,"y":8},{"i":"d","x":9.7,"y":2},{"i":"d","x":12.1,"y":0.7},{"i":"d","x":14.1,"y":0.3},{"i":"d","x":16,"y":0.15},{"i":"d","x":18,"y":0.1},{"i":"d","x":19.9,"y":0.12},{"i":"d","x":21.8,"y":0.1},{"i":"d","x":23.8,"y":0.08},{"i":"d","x":25.7,"y":0.09},{"i":"d","x":27.7,"y":0.08},
{"i":"e","x":1.9,"y":20},{"i":"e","x":3.9,"y":15},{"i":"e","x":5.8,"y":8},{"i":"e","x":7.8,"y":3},{"i":"e","x":9.7,"y":0.8},{"i":"e","x":12.1,"y":0.4},{"i":"e","x":14.1,"y":0.15},{"i":"e","x":16,"y":0.08},{"i":"e","x":18,"y":0.07},{"i":"e","x":19.9,"y":0.1},{"i":"e","x":21.8,"y":0.08},{"i":"e","x":23.8,"y":0.07},
{"i":"f","x":1.9,"y":10},{"i":"f","x":3.9,"y":8},{"i":"f","x":5.8,"y":3},{"i":"f","x":7.8,"y":1},{"i":"f","x":9.7,"y":0.5},{"i":"f","x":12.1,"y":0.2},{"i":"f","x":14.1,"y":0.06},{"i":"f","x":16,"y":0.05},{"i":"f","x":18,"y":0.06},{"i":"f","x":19.9,"y":0.08},{"i":"f","x":21.8,"y":0.09},{"i":"f","x":23.8,"y":0.1},
{"i":"g","x":1.9,"y":150},{"i":"g","x":3.9,"y":100},{"i":"g","x":5.8,"y":50},{"i":"g","x":7.8,"y":12},{"i":"g","x":9.7,"y":6},{"i":"g","x":12.1,"y":2},{"i":"g","x":14.1,"y":1.2},{"i":"g","x":16,"y":0.6},{"i":"g","x":18,"y":0.3},{"i":"g","x":19.9,"y":0.2},{"i":"g","x":21.8,"y":0.15},{"i":"g","x":23.8,"y":0.1},{"i":"g","x":25.7,"y":0.09},{"i":"g","x":27.7,"y":0.08},{"i":"g","x":29.5,"y":0.09},
{"i":"h","x":1.9,"y":80},{"i":"h","x":3.9,"y":60},{"i":"h","x":5.8,"y":30},{"i":"h","x":7.8,"y":10},{"i":"h","x":9.7,"y":3},{"i":"h","x":12.1,"y":1.5},{"i":"h","x":14.1,"y":0.5},{"i":"h","x":16,"y":0.3},{"i":"h","x":18,"y":0.2},{"i":"h","x":19.9,"y":0.15},{"i":"h","x":21.8,"y":0.1},{"i":"h","x":23.8,"y":0.09},{"i":"h","x":25.7,"y":0.1},
{"i":"j","x":1.9,"y":400},{"i":"j","x":3.9,"y":300},{"i":"j","x":5.8,"y":150},{"i":"j","x":7.8,"y":60},{"i":"j","x":9.7,"y":20},{"i":"j","x":12.1,"y":8},{"i":"j","x":14.1,"y":4},{"i":"j","x":16,"y":2},{"i":"j","x":18,"y":1.5},{"i":"j","x":19.9,"y":0.9},{"i":"j","x":21.8,"y":0.4},{"i":"j","x":23.8,"y":0.2},{"i":"j","x":25.7,"y":0.18},
{"i":"k","x":1.9,"y":30},{"i":"k","x":3.9,"y":25},{"i":"k","x":5.8,"y":10},{"i":"k","x":7.8,"y":4},{"i":"k","x":9.7,"y":1.5},{"i":"k","x":12.1,"y":0.9},{"i":"k","x":14.1,"y":0.5},{"i":"k","x":16,"y":0.4},{"i":"k","x":18,"y":0.3},{"i":"k","x":19.9,"y":0.1},{"i":"k","x":21.8,"y":0.07},{"i":"k","x":23.8,"y":0.075},{"i":"k","x":25.7,"y":0.08},
{"i":"l","x":1.9,"y":100},{"i":"l","x":3.9,"y":80},{"i":"l","x":5.8,"y":40},{"i":"l","x":7.8,"y":15},{"i":"l","x":9.7,"y":5},{"i":"l","x":12.1,"y":2.5},{"i":"l","x":14.1,"y":1.5},{"i":"l","x":16,"y":1.2},{"i":"l","x":18,"y":0.8},{"i":"l","x":19.9,"y":0.5},{"i":"l","x":21.8,"y":0.25},{"i":"l","x":23.8,"y":0.12},{"i":"l","x":25.7,"y":0.1},{"i":"l","x":27.7,"y":0.1},
{"i":"n","x":1.9,"y":8},{"i":"n","x":3.9,"y":6},{"i":"n","x":5.8,"y":4},{"i":"n","x":7.8,"y":0.9},{"i":"n","x":9.7,"y":0.3},{"i":"n","x":12.1,"y":0.15},{"i":"n","x":14.1,"y":0.1},{"i":"n","x":16,"y":0.07},{"i":"n","x":18,"y":0.08},{"i":"n","x":19.9,"y":0.09},{"i":"n","x":21.8,"y":0.08},
{"i":"M","x":1.9,"y":100},{"i":"M","x":3.9,"y":66},{"i":"M","x":5.8,"y":18},{"i":"M","x":7.8,"y":11},{"i":"M","x":9.7,"y":3.5},{"i":"M","x":12.1,"y":1.6},{"i":"M","x":14.1,"y":0.85},{"i":"M","x":16,"y":0.35},{"i":"M","x":18,"y":0.28},{"i":"M","x":19.9,"y":0.26},{"i":"M","x":21.8,"y":0.17},{"i":"M","x":23.8,"y":0.11},{"i":"M","x":25.7,"y":0.1},{"i":"M","x":27.7,"y":0.095},{"i":"M","x":30.1,"y":0.1},{"i":"M","x":32,"y":0.1},{"i":"M","x":34.5,"y":0.085}
]
},
"concat":[
{"width":170,"height":171,"title":"(a) E2",
 "layer":[
  {"data":{"name":"e2f"},"transform":[{"filter":"datum.i!='M'"}],"mark":{"type":"line","color":"#b5e2fa","strokeWidth":2},"encoding":{"x":{"field":"x","type":"quantitative","scale":{"domain":[0.8,50],"nice":false,"zero":false},"axis":{"values":[10,20,30,40,50],"title":"Dd (µm)"}},"y":{"field":"y","type":"quantitative","scale":{"type":"log","domain":[0.006,2800],"nice":false},"axis":{"values":[0.01,0.1,1,10,100,1000],"format":"~g","title":"dNd/dlogDₚ (cm⁻³)"}},"detail":{"field":"i"}}},
  {"data":{"name":"e2f"},"transform":[{"filter":"datum.i=='M'"}],"mark":{"type":"line","color":"#0f9ef0","strokeWidth":5},"encoding":{"x":{"field":"x","type":"quantitative"},"y":{"field":"y","type":"quantitative"}}},
  {"data":{"values":[{"t":"Formation"}]},"mark":{"type":"text","align":"center","baseline":"middle"},"encoding":{"x":{"datum":36.4,"type":"quantitative","axis":{"values":[10,20,30,40,50],"title":"Dd (µm)"}},"y":{"datum":1000,"type":"quantitative","axis":{"values":[0.01,0.1,1,10,100,1000],"format":"~g","title":"dNd/dlogDₚ (cm⁻³)"}},"text":{"field":"t"}}}
 ]},
{"width":170,"height":171,
 "layer":[
  {"data":{"name":"e2d"},"transform":[{"filter":"datum.i!='M'"}],"mark":{"type":"line","color":"#ffb6e6","strokeWidth":2},"encoding":{"x":{"field":"x","type":"quantitative","scale":{"domain":[0.8,50],"nice":false,"zero":false},"axis":{"values":[10,20,30,40,50],"title":"Dd (µm)"}},"y":{"field":"y","type":"quantitative","scale":{"type":"log","domain":[0.006,2800],"nice":false},"axis":{"values":[0.01,0.1,1,10,100,1000],"format":"~g","title":"dNd/dlogDₚ (cm⁻³)"}},"detail":{"field":"i"}}},
  {"data":{"name":"e2d"},"transform":[{"filter":"datum.i=='M'"}],"mark":{"type":"line","color":"#ff00c8","strokeWidth":5},"encoding":{"x":{"field":"x","type":"quantitative"},"y":{"field":"y","type":"quantitative"}}},
  {"data":{"values":[{"t":"Development"}]},"mark":{"type":"text","align":"center","baseline":"middle"},"encoding":{"x":{"datum":36.4,"type":"quantitative","axis":{"values":[10,20,30,40,50],"title":"Dd (µm)"}},"y":{"datum":1000,"type":"quantitative","axis":{"values":[0.01,0.1,1,10,100,1000],"format":"~g","title":"dNd/dlogDₚ (cm⁻³)"}},"text":{"field":"t"}}}
 ]},
{"width":170,"height":171,
 "layer":[
  {"data":{"name":"e2m"},"transform":[{"filter":"datum.i!='M'"}],"mark":{"type":"line","color":"#fde4b5","strokeWidth":2.5},"encoding":{"x":{"field":"x","type":"quantitative","scale":{"domain":[0.8,50],"nice":false,"zero":false},"axis":{"values":[10,20,30,40,50],"title":"Dd (µm)"}},"y":{"field":"y","type":"quantitative","scale":{"type":"log","domain":[0.006,2800],"nice":false},"axis":{"values":[0.01,0.1,1,10,100,1000],"format":"~g","title":"dNd/dlogDₚ (cm⁻³)"}},"detail":{"field":"i"}}},
  {"data":{"name":"e2m"},"transform":[{"filter":"datum.i=='M'"}],"mark":{"type":"line","color":"#cc8000","strokeWidth":5},"encoding":{"x":{"field":"x","type":"quantitative"},"y":{"field":"y","type":"quantitative"}}},
  {"data":{"values":[{"t":"Mature"}]},"mark":{"type":"text","align":"center","baseline":"middle"},"encoding":{"x":{"datum":36.4,"type":"quantitative","axis":{"values":[10,20,30,40,50],"title":"Dd (µm)"}},"y":{"datum":1000,"type":"quantitative","axis":{"values":[0.01,0.1,1,10,100,1000],"format":"~g","title":"dNd/dlogDₚ (cm⁻³)"}},"text":{"field":"t"}}}
 ]},
{"width":170,"height":171,
 "layer":[
  {"data":{"name":"e2x"},"transform":[{"filter":"datum.i!='M'"}],"mark":{"type":"line","color":"#c9abeb","strokeWidth":2},"encoding":{"x":{"field":"x","type":"quantitative","scale":{"domain":[0.8,50],"nice":false,"zero":false},"axis":{"values":[10,20,30,40,50],"title":"Dd (µm)"}},"y":{"field":"y","type":"quantitative","scale":{"type":"log","domain":[0.006,2800],"nice":false},"axis":{"values":[0.01,0.1,1,10,100,1000],"format":"~g","title":"dNd/dlogDₚ (cm⁻³)"}},"detail":{"field":"i"}}},
  {"data":{"name":"e2x"},"transform":[{"filter":"datum.i=='M'"}],"mark":{"type":"line","color":"#7a0ee8","strokeWidth":5},"encoding":{"x":{"field":"x","type":"quantitative"},"y":{"field":"y","type":"quantitative"}}},
  {"data":{"values":[{"t":"Dissipation"}]},"mark":{"type":"text","align":"center","baseline":"middle"},"encoding":{"x":{"datum":36.4,"type":"quantitative","axis":{"values":[10,20,30,40,50],"title":"Dd (µm)"}},"y":{"datum":1000,"type":"quantitative","axis":{"values":[0.01,0.1,1,10,100,1000],"format":"~g","title":"dNd/dlogDₚ (cm⁻³)"}},"text":{"field":"t"}}}
 ]},
{"width":170,"height":171,"title":"(b) E3",
 "layer":[
  {"data":{"name":"e3f"},"transform":[{"filter":"datum.i!='M'"}],"mark":{"type":"line","color":"#b5e2fa","strokeWidth":2},"encoding":{"x":{"field":"x","type":"quantitative","scale":{"domain":[0.8,50],"nice":false,"zero":false},"axis":{"values":[10,20,30,40,50],"title":"Dd (µm)"}},"y":{"field":"y","type":"quantitative","scale":{"type":"log","domain":[0.006,2800],"nice":false},"axis":{"values":[0.01,0.1,1,10,100,1000],"format":"~g","title":"dNd/dlogDₚ (cm⁻³)"}},"detail":{"field":"i"}}},
  {"data":{"name":"e3f"},"transform":[{"filter":"datum.i=='M'"}],"mark":{"type":"line","color":"#0f9ef0","strokeWidth":5},"encoding":{"x":{"field":"x","type":"quantitative"},"y":{"field":"y","type":"quantitative"}}},
  {"data":{"values":[{"t":"Formation"}]},"mark":{"type":"text","align":"center","baseline":"middle"},"encoding":{"x":{"datum":36.4,"type":"quantitative","axis":{"values":[10,20,30,40,50],"title":"Dd (µm)"}},"y":{"datum":1000,"type":"quantitative","axis":{"values":[0.01,0.1,1,10,100,1000],"format":"~g","title":"dNd/dlogDₚ (cm⁻³)"}},"text":{"field":"t"}}}
 ]},
{"width":170,"height":171,
 "layer":[
  {"data":{"name":"e3d"},"transform":[{"filter":"datum.i!='M'"}],"mark":{"type":"line","color":"#ffb6e6","strokeWidth":2},"encoding":{"x":{"field":"x","type":"quantitative","scale":{"domain":[0.8,50],"nice":false,"zero":false},"axis":{"values":[10,20,30,40,50],"title":"Dd (µm)"}},"y":{"field":"y","type":"quantitative","scale":{"type":"log","domain":[0.006,2800],"nice":false},"axis":{"values":[0.01,0.1,1,10,100,1000],"format":"~g","title":"dNd/dlogDₚ (cm⁻³)"}},"detail":{"field":"i"}}},
  {"data":{"name":"e3d"},"transform":[{"filter":"datum.i=='M'"}],"mark":{"type":"line","color":"#ff00c8","strokeWidth":5},"encoding":{"x":{"field":"x","type":"quantitative"},"y":{"field":"y","type":"quantitative"}}},
  {"data":{"values":[{"t":"Development"}]},"mark":{"type":"text","align":"center","baseline":"middle"},"encoding":{"x":{"datum":36.4,"type":"quantitative","axis":{"values":[10,20,30,40,50],"title":"Dd (µm)"}},"y":{"datum":1000,"type":"quantitative","axis":{"values":[0.01,0.1,1,10,100,1000],"format":"~g","title":"dNd/dlogDₚ (cm⁻³)"}},"text":{"field":"t"}}}
 ]},
{"width":170,"height":171,
 "layer":[
  {"data":{"name":"e3m"},"transform":[{"filter":"substring(datum.i,0,1)=='q'"}],"mark":{"type":"line","color":"#fde4b5","strokeWidth":2},"encoding":{"x":{"field":"x","type":"quantitative","scale":{"domain":[0.8,50],"nice":false,"zero":false},"axis":{"values":[10,20,30,40,50],"title":"Dd (µm)"}},"y":{"field":"y","type":"quantitative","scale":{"type":"log","domain":[0.006,2800],"nice":false},"axis":{"values":[0.01,0.1,1,10,100,1000],"format":"~g","title":"dNd/dlogDₚ (cm⁻³)"}},"detail":{"field":"i"}}},
  {"data":{"name":"e3m"},"transform":[{"filter":"substring(datum.i,0,1)=='g'"}],"mark":{"type":"line","color":"#b4f2b4","strokeWidth":2},"encoding":{"x":{"field":"x","type":"quantitative"},"y":{"field":"y","type":"quantitative"},"detail":{"field":"i"}}},
  {"data":{"name":"e3m"},"transform":[{"filter":"datum.i=='Q1'"}],"mark":{"type":"line","color":"#cc8000","strokeWidth":5},"encoding":{"x":{"field":"x","type":"quantitative"},"y":{"field":"y","type":"quantitative"}}},
  {"data":{"name":"e3m"},"transform":[{"filter":"datum.i=='Q2'"}],"mark":{"type":"line","color":"#1ec81e","strokeWidth":5},"encoding":{"x":{"field":"x","type":"quantitative"},"y":{"field":"y","type":"quantitative"}}},
  {"data":{"values":[{"t":"Mature"}]},"mark":{"type":"text","align":"center","baseline":"middle"},"encoding":{"x":{"datum":36.4,"type":"quantitative","axis":{"values":[10,20,30,40,50],"title":"Dd (µm)"}},"y":{"datum":1000,"type":"quantitative","axis":{"values":[0.01,0.1,1,10,100,1000],"format":"~g","title":"dNd/dlogDₚ (cm⁻³)"}},"text":{"field":"t"}}},
  {"data":{"values":[{"s":"SSQ1"}]},"mark":{"type":"rule","color":"#cc8000","strokeWidth":5},"encoding":{"x":{"datum":3.2,"type":"quantitative","axis":{"values":[10,20,30,40,50],"title":"Dd (µm)"}},"x2":{"datum":12},"y":{"datum":0.157,"type":"quantitative","axis":{"values":[0.01,0.1,1,10,100,1000],"format":"~g","title":"dNd/dlogDₚ (cm⁻³)"}}}},
  {"data":{"values":[{"s":"SSQ2"}]},"mark":{"type":"rule","color":"#1ec81e","strokeWidth":5},"encoding":{"x":{"datum":3.2,"type":"quantitative","axis":{"values":[10,20,30,40,50],"title":"Dd (µm)"}},"x2":{"datum":12},"y":{"datum":0.03,"type":"quantitative","axis":{"values":[0.01,0.1,1,10,100,1000],"format":"~g","title":"dNd/dlogDₚ (cm⁻³)"}}}},
  {"data":{"values":[{"t":"SS"}]},"mark":{"type":"text","align":"left","baseline":"middle","fontStyle":"italic","fontSize":14},"encoding":{"x":{"datum":14.3,"type":"quantitative","axis":{"values":[10,20,30,40,50],"title":"Dd (µm)"}},"y":{"datum":0.157,"type":"quantitative","axis":{"values":[0.01,0.1,1,10,100,1000],"format":"~g","title":"dNd/dlogDₚ (cm⁻³)"}},"text":{"field":"t"}}},
  {"data":{"values":[{"t":"SS"}]},"mark":{"type":"text","align":"left","baseline":"middle","fontStyle":"italic","fontSize":14},"encoding":{"x":{"datum":14.3,"type":"quantitative","axis":{"values":[10,20,30,40,50],"title":"Dd (µm)"}},"y":{"datum":0.03,"type":"quantitative","axis":{"values":[0.01,0.1,1,10,100,1000],"format":"~g","title":"dNd/dlogDₚ (cm⁻³)"}},"text":{"field":"t"}}},
  {"data":{"values":[{"t":"Q1"}]},"mark":{"type":"text","align":"left","baseline":"middle","fontSize":10},"encoding":{"x":{"datum":20.3,"type":"quantitative","axis":{"values":[10,20,30,40,50],"title":"Dd (µm)"}},"y":{"datum":0.112,"type":"quantitative","axis":{"values":[0.01,0.1,1,10,100,1000],"format":"~g","title":"dNd/dlogDₚ (cm⁻³)"}},"text":{"field":"t"}}},
  {"data":{"values":[{"t":"Q2"}]},"mark":{"type":"text","align":"left","baseline":"middle","fontSize":10},"encoding":{"x":{"datum":20.3,"type":"quantitative","axis":{"values":[10,20,30,40,50],"title":"Dd (µm)"}},"y":{"datum":0.0215,"type":"quantitative","axis":{"values":[0.01,0.1,1,10,100,1000],"format":"~g","title":"dNd/dlogDₚ (cm⁻³)"}},"text":{"field":"t"}}}
 ]},
{"width":170,"height":171,
 "layer":[
  {"data":{"name":"e3x"},"transform":[{"filter":"datum.i!='M'"}],"mark":{"type":"line","color":"#c9abeb","strokeWidth":2},"encoding":{"x":{"field":"x","type":"quantitative","scale":{"domain":[0.8,50],"nice":false,"zero":false},"axis":{"values":[10,20,30,40,50],"title":"Dd (µm)"}},"y":{"field":"y","type":"quantitative","scale":{"type":"log","domain":[0.006,2800],"nice":false},"axis":{"values":[0.01,0.1,1,10,100,1000],"format":"~g","title":"dNd/dlogDₚ (cm⁻³)"}},"detail":{"field":"i"}}},
  {"data":{"name":"e3x"},"transform":[{"filter":"datum.i=='M'"}],"mark":{"type":"line","color":"#7a0ee8","strokeWidth":5},"encoding":{"x":{"field":"x","type":"quantitative"},"y":{"field":"y","type":"quantitative"}}},
  {"data":{"values":[{"t":"Dissipation"}]},"mark":{"type":"text","align":"center","baseline":"middle"},"encoding":{"x":{"datum":36.4,"type":"quantitative","axis":{"values":[10,20,30,40,50],"title":"Dd (µm)"}},"y":{"datum":1000,"type":"quantitative","axis":{"values":[0.01,0.1,1,10,100,1000],"format":"~g","title":"dNd/dlogDₚ (cm⁻³)"}},"text":{"field":"t"}}}
 ]}
]
}
